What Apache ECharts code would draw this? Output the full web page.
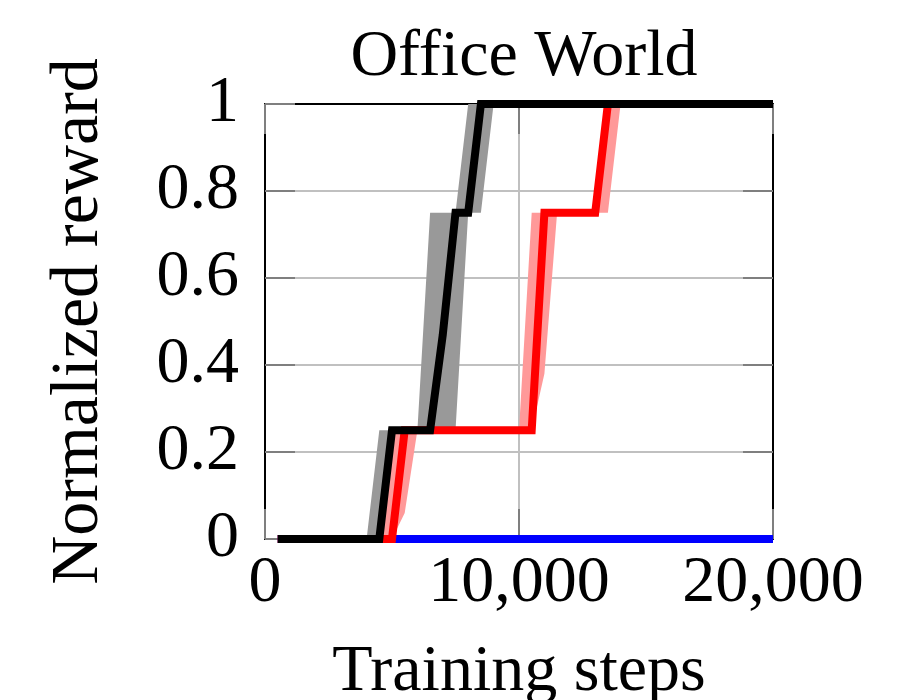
<!DOCTYPE html>
<html>
<head>
<meta charset="utf-8">
<script src="https://cdn.jsdelivr.net/npm/echarts@6/dist/echarts.min.js"></script>
<style>
  html, body { margin: 0; padding: 0; background: #fff; }
  #chart { width: 907px; height: 700px; }
</style>
</head>
<body>
<div id="chart"></div>
<script>
// Axis ticks and labels
const xTicks = [0, 10000, 20000];
const xTickLabels = ['0', '10,000', '20,000'];
const yTicks = [0, 0.2, 0.4, 0.6, 0.8, 1];
const yTickLabels = ['0', '0.2', '0.4', '0.6', '0.8', '1'];

// Black method: median curve and min/max band
const blackSteps = [500, 4500, 5000, 6500, 7000, 7500, 8000, 8500, 20000];
const blackMedian = [0, 0, 0.25, 0.25, 0.47, 0.75, 0.75, 1, 1];
const blackBandSteps = [500, 4000, 4500, 5000, 6000, 6500, 7500, 8000, 8500, 9000, 20000];
const blackBandMax = [0, 0, 0.25, 0.25, 0.25, 0.75, 0.75, 1, 1, 1, 1];
const blackBandMin = [0, 0, 0, 0.25, 0.25, 0.25, 0.25, 0.75, 0.75, 1, 1];

// Red method: median curve and min/max band
const redSteps = [500, 5000, 5500, 10500, 11000, 13000, 13500, 20000];
const redMedian = [0, 0, 0.25, 0.25, 0.75, 0.75, 1, 1];
const redBandSteps = [500, 4500, 5000, 5500, 6000, 10000, 10500, 11000, 11500, 13000, 13500, 14000, 20000];
const redBandMax = [0, 0, 0.25, 0.25, 0.25, 0.25, 0.75, 0.75, 0.75, 0.75, 1, 1, 1];
const redBandMin = [0, 0, 0, 0.06, 0.25, 0.25, 0.25, 0.38, 0.75, 0.75, 0.75, 1, 1];

// Blue method: flat curve
const blueSteps = [500, 20000];
const blueMedian = [0, 0];

const FONT = 'Liberation Serif';
const FONT_SIZE = 66;

function pairs(xs, ys) {
  return xs.map((x, i) => [x, ys[i]]);
}

// Shaded band between a lower and an upper curve, drawn as one polygon
function bandSeries(name, steps, lo, hi, color) {
  return {
    name: name,
    type: 'custom',
    z: 1,
    silent: true,
    data: [[steps[0], lo[0]]],
    encode: { x: 0, y: 1 },
    renderItem: function (params, api) {
      const pts = [];
      for (let i = 0; i < steps.length; i++) pts.push(api.coord([steps[i], hi[i]]));
      for (let i = steps.length - 1; i >= 0; i--) pts.push(api.coord([steps[i], lo[i]]));
      return {
        type: 'polygon',
        shape: { points: pts },
        style: { fill: color, stroke: null }
      };
    }
  };
}

function lineSeries(name, steps, vals, color, z) {
  return {
    name: name,
    type: 'line',
    data: pairs(steps, vals),
    showSymbol: false,
    symbol: 'none',
    clip: false,
    z: z,
    lineStyle: { color: color, width: 8, join: 'miter' }
  };
}

const chart = echarts.init(document.getElementById('chart'), null, { renderer: 'canvas' });

const axisCommon = {
  type: 'value',
  axisLine: { show: true, onZero: false, lineStyle: { color: '#000', width: 2 } },
  axisTick: { show: true, inside: true, length: 30, lineStyle: { color: '#7f7f7f', width: 2 } }
};

const textCommon = { fontFamily: FONT, fontSize: FONT_SIZE, color: '#000' };

chart.setOption({
  animation: false,
  backgroundColor: '#fff',
  title: {
    text: 'Office World',
    left: 519,
    textAlign: 'center',
    top: 20,
    textStyle: Object.assign({ fontWeight: 'normal' }, textCommon)
  },
  grid: {
    left: 265, right: 134, top: 104, bottom: 161,
    containLabel: false,
    outerBoundsMode: 'none',
    show: false
  },
  xAxis: [
    Object.assign({}, axisCommon, {
      min: 0, max: 20000, interval: 10000,
      position: 'bottom',
      name: 'Training steps',
      nameLocation: 'middle',
      nameGap: 101,
      nameTextStyle: textCommon,
      axisLabel: Object.assign({
        margin: 12,
        formatter: v => xTickLabels[xTicks.indexOf(v)]
      }, textCommon),
      splitLine: { show: true, lineStyle: { color: '#c0c0c0', width: 2 } }
    }),
    Object.assign({}, axisCommon, {
      min: 0, max: 20000, interval: 10000,
      position: 'top',
      axisLabel: { show: false },
      splitLine: { show: false }
    })
  ],
  yAxis: [
    Object.assign({}, axisCommon, {
      min: 0, max: 1, interval: 0.2,
      position: 'left',
      name: 'Normalized reward',
      nameLocation: 'middle',
      nameGap: 152,
      nameTextStyle: Object.assign({}, textCommon, { fontSize: 68 }),
      axisLabel: Object.assign({
        margin: 26,
        formatter: v => yTickLabels[yTicks.findIndex(t => Math.abs(t - v) < 1e-9)]
      }, textCommon),
      splitLine: { show: true, lineStyle: { color: '#c0c0c0', width: 2 } }
    }),
    Object.assign({}, axisCommon, {
      min: 0, max: 1, interval: 0.2,
      position: 'right',
      axisLabel: { show: false },
      splitLine: { show: false }
    })
  ],
  series: [
    bandSeries('black band', blackBandSteps, blackBandMin, blackBandMax, '#999999'),
    bandSeries('red band', redBandSteps, redBandMin, redBandMax, '#ff9999'),
    lineSeries('blue', blueSteps, blueMedian, '#0000ff', 3),
    lineSeries('red', redSteps, redMedian, '#ff0000', 4),
    lineSeries('black', blackSteps, blackMedian, '#000000', 5)
  ]
});
</script>
</body>
</html>
